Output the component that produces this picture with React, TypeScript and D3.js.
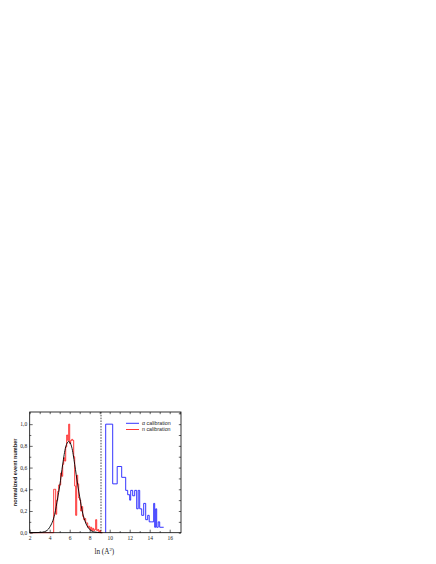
import React, { useEffect, useRef } from 'react';
import * as d3 from 'd3';

// gaussian fit
const fitX = [2.0, 3.0, 3.5, 4.0, 4.5, 4.8, 5.0, 5.3, 5.6, 5.9, 6.2, 6.5, 6.8, 7.0, 7.3, 7.6, 8.0, 8.5, 9.0, 9.2];
const fitY = [0.0, 0.002, 0.01, 0.05, 0.17, 0.32, 0.43, 0.63, 0.79, 0.84, 0.79, 0.63, 0.44, 0.33, 0.18, 0.09, 0.03, 0.006, 0.001, 0.0];

// n calibration histogram (bin starts, 0.1 wide)
const nBins = [4.4, 4.5, 4.6, 4.7, 4.8, 4.9, 5.0, 5.1, 5.2, 5.3, 5.4, 5.5, 5.6, 5.7, 5.8, 5.9, 6.0, 6.1, 6.2, 6.3,
  6.4, 6.5, 6.6, 6.7, 6.8, 6.9, 7.0, 7.1, 7.2, 7.3, 7.4, 7.5, 7.6, 7.7, 7.8, 7.9, 8.0, 8.1, 8.2, 8.3,
  8.4, 8.5, 8.6, 8.7, 8.8, 8.9, 9.0, 9.1, 9.2];
const nCounts = [0.40, 0.40, 0.17, 0.30, 0.38, 0.44, 0.44, 0.55, 0.52, 0.63, 0.69, 0.66, 0.79, 0.90, 0.85, 1.00, 0.82, 0.85, 0.86, 0.85,
  0.70, 0.43, 0.16, 0.53, 0.45, 0.32, 0.30, 0.20, 0.24, 0.15, 0.12, 0.13, 0.09, 0.09, 0.05, 0.06, 0.03, 0.05, 0.02, 0.04,
  0.02, 0.03, 0.12, 0.02, 0.03, 0.01, 0.02, 0.0, 0.0];
const nStart = 2;
const nEnd = 9.3;

// alpha calibration histogram
const aEdges = [9.6, 10.3, 10.75, 11.2, 11.6, 11.8, 12.0, 12.1, 12.3, 12.5, 12.7, 12.85, 13.0, 13.2, 13.4, 13.6,
  13.8, 13.95, 14.15, 14.4, 14.5, 14.6, 14.7, 14.85, 15.0, 15.4];
const aCounts = [1.0, 0.45, 0.61, 0.51, 0.39, 0.35, 0.30, 0.39, 0.34, 0.39, 0.22, 0.39, 0.22, 0.16, 0.27, 0.12,
  0.16, 0.10, 0.10, 0.27, 0.05, 0.22, 0.05, 0.10, 0.05];

const cutPos = 9.13;
const xTicks = [2, 4, 6, 8, 10, 12, 14, 16];
const yTicks = [0, 0.2, 0.4, 0.6, 0.8, 1.0];
const legendItems = ['\u03b1 calibration', 'n calibration'];
const legendColors = ['#1f1fff', '#ff2020'];

function Chart() {
  const ref = useRef<SVGSVGElement>(null);

  useEffect(() => {
    const svg = d3.select(ref.current);
    svg.selectAll('*').remove();

    const left = 29.7, right = 181, top = 412, bottom = 532.7;
    const x = d3.scaleLinear().domain([2, 17.13]).range([left, right]);
    const y = d3.scaleLinear().domain([0, 1.112]).range([bottom, top]);
    const comma = (d: number) => d3.format('.1f')(d).replace('.', ',');

    const axes = svg.append('g').attr('font-family', 'Liberation Serif').attr('font-size', 5.5);

    const styleAxis = (g: any) => {
      g.select('.domain').remove();
      g.selectAll('line').attr('stroke', '#000').attr('stroke-width', 0.6);
      g.selectAll('text').attr('font-family', 'Liberation Serif').attr('font-size', 5.5).attr('fill', '#222');
    };

    axes.append('g').attr('transform', `translate(0,${bottom})`)
      .call(d3.axisBottom(x).tickValues(xTicks).tickSize(-3).tickPadding(3.5).tickFormat(d3.format('d') as any))
      .call(styleAxis);
    axes.append('g').attr('transform', `translate(0,${bottom})`)
      .call(d3.axisBottom(x).tickValues(d3.range(3, 17, 2)).tickSize(-1.6).tickFormat(() => ''))
      .call(styleAxis);
    axes.append('g').attr('transform', `translate(0,${top})`)
      .call(d3.axisTop(x).tickValues(d3.range(2, 17.1, 1)).tickSize(-2.2).tickFormat(() => ''))
      .call(styleAxis);
    axes.append('g').attr('transform', `translate(${left},0)`)
      .call(d3.axisLeft(y).tickValues(yTicks).tickSize(-3).tickPadding(2.5).tickFormat(comma as any))
      .call(styleAxis);
    axes.append('g').attr('transform', `translate(${left},0)`)
      .call(d3.axisLeft(y).tickValues(d3.range(0.1, 1.1, 0.2)).tickSize(-1.6).tickFormat(() => ''))
      .call(styleAxis);
    axes.append('g').attr('transform', `translate(${right},0)`)
      .call(d3.axisRight(y).tickValues(d3.range(0, 1.11, 0.1)).tickSize(-2.2).tickFormat(() => ''))
      .call(styleAxis);

    // histograms
    const step = d3.line<[number, number]>().x(d => x(d[0])).y(d => y(d[1])).curve(d3.curveStepAfter);

    const nPts: [number, number][] = [[nStart, 0]];
    nBins.forEach((b, i) => nPts.push([b, nCounts[i]]));
    nPts.push([nEnd, 0]);
    svg.append('path').attr('d', step(nPts))
      .attr('fill', 'none').attr('stroke', legendColors[1]).attr('stroke-width', 0.9);

    const aPts: [number, number][] = [[aEdges[0], 0]];
    aCounts.forEach((c, i) => aPts.push([aEdges[i], c]));
    aPts.push([aEdges[aEdges.length - 1], aCounts[aCounts.length - 1]]);
    const aLine = d3.line<[number, number]>().x(d => x(d[0])).y(d => y(d[1])).curve(d3.curveStepAfter);
    // first point goes straight up from zero
    const aFull: [number, number][] = [[aEdges[0], 0], ...aPts.slice(1)];
    svg.append('path').attr('d', 'M' + x(aEdges[0]) + ',' + y(0) + (aLine(aFull.slice(1)) || '').replace(/^M/, 'L'))
      .attr('fill', 'none').attr('stroke', legendColors[0]).attr('stroke-width', 0.9);

    // gaussian fit
    const fit = d3.line<number>().x((d, i) => x(fitX[i])).y(d => y(d)).curve(d3.curveMonotoneX);
    svg.append('path').attr('d', fit(fitY))
      .attr('fill', 'none').attr('stroke', '#000').attr('stroke-width', 0.9);

    // cut line
    svg.append('line')
      .attr('x1', x(cutPos)).attr('x2', x(cutPos)).attr('y1', top).attr('y2', bottom)
      .attr('stroke', '#000').attr('stroke-width', 0.7).attr('stroke-dasharray', '1.6,1.2');

    // frame
    svg.append('rect')
      .attr('x', left).attr('y', top).attr('width', right - left).attr('height', bottom - top)
      .attr('fill', 'none').attr('stroke', '#000').attr('stroke-width', 0.8);

    // legend
    const legend = svg.selectAll('legendElems')
      .data(legendItems)
      .enter()
      .append('g')
      .attr('transform', (d, i) => 'translate(126,' + (423.3 + i * 6.2) + ')');
    legend.append('line')
      .attr('x1', 0).attr('x2', 13).attr('y1', 0).attr('y2', 0)
      .attr('stroke', (d, i) => legendColors[i]).attr('stroke-width', 0.9);
    legend.append('text')
      .text(d => d)
      .attr('x', 16).attr('y', 1.8)
      .attr('font-family', 'Liberation Sans').attr('font-size', 5.3).attr('fill', '#222');

    // axis titles
    svg.append('text')
      .attr('transform', 'translate(16.5,' + (top + bottom) / 2 + ') rotate(-90)')
      .attr('text-anchor', 'middle')
      .attr('font-family', 'Liberation Sans').attr('font-weight', 'bold').attr('font-size', 5.6)
      .attr('fill', '#222')
      .text('normalized event number');

    const xt = svg.append('text')
      .attr('x', (left + right) / 2 - 1).attr('y', 553.5)
      .attr('text-anchor', 'middle')
      .attr('font-family', 'Liberation Serif').attr('font-size', 7.2).attr('fill', '#222');
    xt.append('tspan').text('ln (A');
    xt.append('tspan').attr('dy', -2.6).attr('font-size', 4.8).text('2');
    xt.append('tspan').attr('dy', 2.6).text(')');
  }, []);

  return <svg ref={ref} width={436} height={564} style={{ position: 'absolute', left: 0, top: 0 }} />;
}

export default function App() {
  return <Chart />;
}
